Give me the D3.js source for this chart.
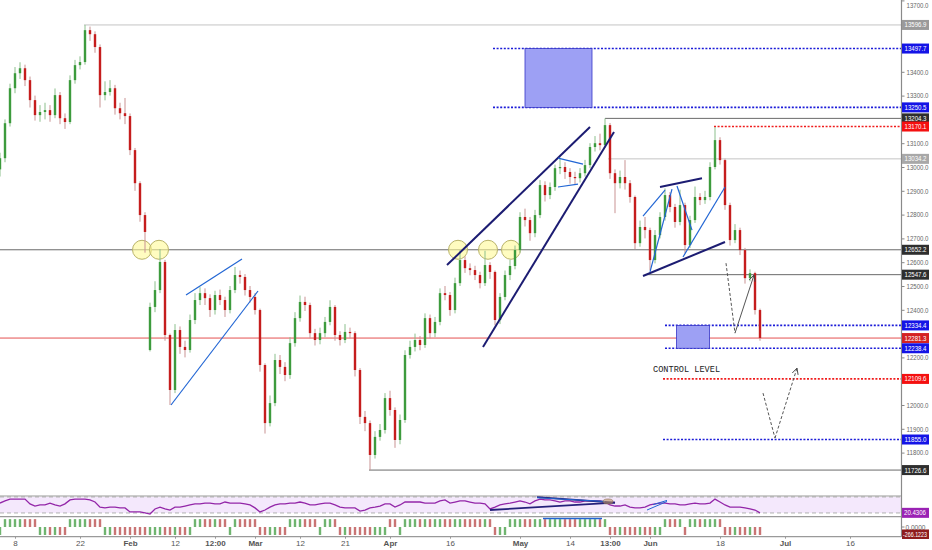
<!DOCTYPE html>
<html>
<head>
<meta charset="utf-8">
<script src="https://cdn.jsdelivr.net/npm/d3@7"></script>
<style>
  body { margin: 0; background: #fff; }
  svg { display: block; font-family: "Liberation Sans", Arial, sans-serif; }
</style>
</head>
<body>
<svg></svg>
<script>
// candles, one every bar
const opens = [
  12990,13037,13184,13331,13394,13415,13365,13281,13218,13231,
  13239,13218,13302,13205,13189,13365,13428,13441,13575,13558,
  13504,13302,13315,13331,13247,13226,13214,13071,12932,12798,
  12231,12412,12483,12601,12294,12063,12315,12244,12231,12357,
  12441,12470,12449,12399,12462,12441,12399,12483,12546,12538,
  12483,12454,12399,12168,11924,12008,12189,12160,12126,12260,
  12365,12433,12420,12302,12273,12302,12349,12412,12294,12273,
  12307,12302,12147,11950,11924,11790,11866,11895,12029,11979,
  11853,11937,12210,12244,12273,12252,12365,12302,12349,12470,
  12462,12399,12512,12609,12575,12567,12546,12512,12588,12559,
  12357,12454,12546,12584,12651,12790,12777,12722,12798,12924,
  12882,12916,12995,13000,12979,12958,12953,12974,13008,13084,
  13100,13092,13176,12974,12932,12958,12932,12874,12680,12748,
  12735,12609,12714,12790,12882,12832,12769,12840,12672,12777,
  12874,12861,12874,13000,13113,13029,12840,12693,12735,12651,
  12533,12554,12399
];
const highs = [
  13060,13200,13350,13420,13440,13430,13380,13300,13260,13270,
  13260,13330,13315,13225,13385,13450,13465,13597,13590,13570,
  13515,13360,13365,13345,13270,13290,13225,13080,12940,12810,
  12430,12520,12655,12610,12300,12340,12330,12270,12380,12470,
  12495,12490,12465,12480,12485,12455,12500,12580,12565,12550,
  12500,12470,12405,12175,12040,12215,12210,12180,12285,12390,
  12460,12455,12430,12320,12325,12370,12440,12420,12310,12340,
  12325,12310,12155,11975,11935,11890,11920,12050,12060,11990,
  11960,12230,12270,12300,12290,12385,12380,12370,12490,12500,
  12475,12535,12650,12625,12595,12585,12560,12648,12600,12565,
  12470,12565,12610,12670,12810,12825,12790,12820,12945,12940,
  12935,13010,13040,13020,12995,12980,12995,13030,13100,13130,
  13140,13204,13185,12990,12985,13029,12945,12880,12775,12790,
  12745,12735,12810,12910,12895,12845,12905,12850,12795,12918,
  12890,12900,13020,13168,13125,13035,12850,12760,12745,12660,
  12570,12560,12405
];
const lows = [
  12960,13020,13170,13310,13370,13340,13250,13195,13190,13200,
  13190,13205,13180,13160,13180,13350,13410,13430,13530,13480,
  13250,13280,13300,13220,13200,13180,13050,12900,12770,12640,
  12225,12390,12470,12270,12000,12050,12215,12200,12220,12340,
  12420,12420,12370,12380,12420,12370,12385,12470,12510,12460,
  12430,12380,12140,11880,11910,11995,12130,12100,12110,12245,
  12350,12395,12280,12250,12255,12285,12335,12270,12250,12260,
  12280,12120,11920,11890,11727,11775,11850,11880,11955,11820,
  11835,11925,12195,12225,12230,12240,12280,12285,12335,12440,
  12375,12385,12500,12555,12545,12525,12490,12500,12530,12335,
  12340,12440,12525,12570,12640,12750,12690,12705,12785,12855,
  12865,12900,12970,12950,12930,12925,12935,12960,12995,13065,
  13070,13080,12950,12806,12910,12905,12850,12655,12665,12700,
  12567,12595,12700,12775,12810,12745,12755,12638,12660,12765,
  12840,12845,12860,12990,13010,12820,12670,12680,12630,12510,
  12520,12380,12270
];
const closes = [
  13037,13184,13331,13394,13415,13365,13281,13218,13231,13239,
  13218,13302,13205,13189,13365,13428,13441,13575,13558,13504,
  13302,13315,13331,13247,13226,13214,13071,12932,12798,12727,
  12412,12483,12601,12294,12063,12315,12244,12231,12357,12441,
  12470,12449,12399,12462,12441,12399,12483,12546,12538,12483,
  12454,12399,12168,11924,12008,12189,12160,12126,12260,12365,
  12433,12420,12302,12273,12302,12349,12412,12294,12273,12307,
  12302,12147,11950,11924,11790,11866,11895,12029,11979,11853,
  11937,12210,12244,12273,12252,12365,12302,12349,12470,12462,
  12399,12512,12609,12575,12567,12546,12512,12588,12559,12357,
  12454,12546,12584,12651,12790,12777,12722,12798,12924,12882,
  12916,12995,13000,12979,12958,12953,12974,13008,13084,13100,
  13092,13176,12974,12932,12958,12932,12874,12680,12748,12735,
  12609,12714,12790,12882,12832,12769,12840,12672,12777,12874,
  12861,12874,13000,13113,13029,12840,12693,12735,12651,12533,
  12554,12399,12281.3
];

// oscillator in the middle pane
const oscVals = [
  57,65,72,72,72,72,54,46,50,50,
  57,50,46,54,69,72,72,72,69,61,
  42,39,42,42,39,39,24,24,24,20,
  16,35,42,35,31,42,42,46,50,54,
  54,57,57,54,54,61,57,57,57,54,
  50,39,24,31,42,50,54,54,57,57,
  61,57,50,50,54,57,57,50,42,39,
  39,39,27,31,39,42,46,54,54,42,
  50,61,61,61,61,57,57,57,65,69,
  57,61,65,65,61,57,57,54,35,42,
  50,54,57,61,65,61,54,65,72,69,
  69,65,61,65,65,61,61,65,65,65,
  65,61,50,46,46,50,42,39,39,42,
  50,54,57,57,54,54,50,50,54,57,
  54,54,57,72,61,50,42,42,42,39,
  35,31,20.4306
];

// histogram in the bottom pane
const histVals = [
  -266,262,262,262,262,262,262,262,-266,-266,
  -266,-266,-266,-266,262,262,262,262,262,262,
  262,-266,-266,-266,-266,-266,-266,-266,-266,-266,
  -266,-266,-266,-266,-266,-266,-266,-266,-266,262,
  262,262,262,262,262,262,-266,262,262,262,
  262,262,-266,-266,-266,-266,-266,-266,262,262,
  262,262,262,262,-266,262,262,262,-266,-266,
  -266,-266,-266,-266,-266,-266,-266,-266,262,262,
  -266,262,262,262,262,262,262,262,262,262,
  262,262,262,262,262,262,262,262,262,-266,
  -266,-266,262,262,262,262,262,262,262,262,
  262,262,262,262,262,262,262,262,262,262,
  262,262,-266,-266,-266,-266,-266,-266,-266,-266,
  -266,-266,-266,262,262,262,262,-266,262,262,
  262,262,262,262,262,-266,-266,-266,-266,-266,
  -266,-266,-266.1223
];

// time axis: bar index of each label
const xTickIdx  = [3, 16, 26, 35, 43, 51, 60, 69, 78, 90, 104, 114, 122, 130, 144, 157, 170];
const xTickText = ['8', '22', 'Feb', '12', '12:00', 'Mar', '12', '21', 'Apr', '16', 'May', '14', '13:00', 'Jun', '18', 'Jul', '16'];

// horizontal levels drawn on the chart
const levelPrices = [13596.9, 13497.7, 13250.5, 13204.3, 13170.1, 13034.2, 12652.2, 12547.6, 12334.4, 12281.3, 12238.4, 12109.6, 11855.0, 11726.6];
const levelStart  = [16.8, 98.6, 98.6, 121, 142.8, 121.6, 0, 129, 133, 0, 133, 132.6, 132.6, 73.8];
const levelKind   = ['grey', 'blue', 'blue', 'dark', 'red', 'light', 'dark', 'dark', 'blue', 'last', 'blue', 'red', 'blue', 'dark'];

// drawings, in bar index / price
const zones      = [[105, 118.4, 13497.7, 13250.5], [135.3, 141.9, 12334.4, 12238.4]];
const navyLines  = [[89.4, 12588, 118, 13168], [96.6, 12244, 122.8, 13147], [132, 12916, 140.4, 12953], [128.6, 12542, 145, 12685]];
const blueLines  = [[34.2, 12000, 51.6, 12479], [37.2, 12462, 48.4, 12613], [111.6, 13037, 116.6, 13012], [111.6, 12916, 115.6, 12928],
                    [128.6, 12794, 133, 12903], [130, 12559, 134.4, 12907], [135.4, 12920, 138.4, 12735], [136.6, 12622, 145, 12916]];
const circleIdx  = [28.4, 31.8, 91.6, 97.6, 102.2];
const circlePrice = 12652.2;
const arrowPaths = [[[145.2, 12596], [147, 12302], [150.8, 12546]], [[152.6, 12050], [155, 11861], [159.4, 12155]]];
const noteIdx = 130.6, notePrice = 12140, noteText = 'CONTROL LEVEL';

// drawings in the lower panes
const oscNavy = [[98, 31, 123, 59], [107.4, 79, 123, 59]];
const oscBlue = [[107.4, 77, 121, 63], [129.4, 31, 133.4, 63], [130.6, 51, 133.4, 67]];
const histLine = [108.6, 120.4, 285];

const width = 932, height = 550;
const axisX = 901.5;
const mainBottom = 496, oscBottom = 516.7, histBottom = 536.7;

const colors = {
  grey:  {line: '#c4c4c4', tag: '#9a9a9a', dash: null},
  light: {line: '#c4c4c4', tag: '#a8a8a8', dash: null},
  dark:  {line: '#6a6a6a', tag: '#2e2e2e', dash: null},
  blue:  {line: '#1c1cd8', tag: '#1414e6', dash: '2,1.6'},
  red:   {line: '#f01c1c', tag: '#f41010', dash: '2,1.6'},
  last:  {line: '#e45050', tag: '#d42222', dash: null}
};
const green = '#3d9b3d', red = '#c51d1d';

const svg = d3.select('svg').attr('width', width).attr('height', height);

let xScale = d3.scaleLinear().domain([0, 180]).range([0, 900]),
    yScale = d3.scaleLinear().domain([11700, 13700]).range([476.4, 0.4]),
    oScale = d3.scaleLinear().domain([0, 100]).range([518.3, 491.6]),
    hScale = d3.scaleLinear().domain([-300, 300]).range([536, 518]);

let defs = svg.append('defs');
defs.append('clipPath').attr('id', 'mainClip')
  .append('rect').attr('x', 0).attr('y', 0).attr('width', axisX).attr('height', mainBottom);
defs.append('marker').attr('id', 'arrow')
    .attr('viewBox', '0 0 8 8').attr('refX', 7).attr('refY', 4)
    .attr('markerWidth', 7).attr('markerHeight', 7).attr('orient', 'auto')
  .append('path').attr('d', 'M0,0.5 L7,4 L0,7.5').attr('fill', 'none').attr('stroke', '#444').attr('stroke-width', 1);

// oscillator pane background
svg.append('rect')
  .attr('x', 0).attr('width', axisX)
  .attr('y', oScale(80)).attr('height', oScale(20) - oScale(80))
  .attr('fill', '#f4e8fc');
[80, 20].forEach(v => {
  svg.append('line')
    .attr('x1', 0).attr('x2', axisX).attr('y1', oScale(v)).attr('y2', oScale(v))
    .attr('stroke', '#b0b0b0').attr('stroke-dasharray', '4,3');
});

// pane borders
[mainBottom, oscBottom, histBottom].forEach(y => {
  svg.append('line').attr('x1', 0).attr('x2', axisX).attr('y1', y).attr('y2', y)
    .attr('stroke', '#9a9a9a').attr('stroke-width', 1.2);
});

let main = svg.append('g').attr('clip-path', 'url(#mainClip)');

// levels
let levels = d3.range(levelPrices.length);
main.selectAll('.lvl').data(levels).enter().append('line')
    .attr('x1', i => xScale(levelStart[i])).attr('x2', axisX)
    .attr('y1', i => yScale(levelPrices[i])).attr('y2', i => yScale(levelPrices[i]))
    .attr('stroke', i => colors[levelKind[i]].line)
    .attr('stroke-width', i => colors[levelKind[i]].dash ? 1.6 : 1)
    .attr('stroke-dasharray', i => colors[levelKind[i]].dash);

// zones
main.selectAll('.zone').data(zones).enter().append('rect')
    .attr('x', d => xScale(d[0])).attr('width', d => xScale(d[1]) - xScale(d[0]))
    .attr('y', d => yScale(d[2])).attr('height', d => yScale(d[3]) - yScale(d[2]))
    .attr('fill', '#9da0f4').attr('stroke', '#3535c8').attr('stroke-width', 0.8);

// circles
main.selectAll('.circ').data(circleIdx).enter().append('circle')
    .attr('cx', d => xScale(d)).attr('cy', yScale(circlePrice)).attr('r', 9.5)
    .attr('fill', 'rgba(255,250,150,0.6)').attr('stroke', '#b9b36a').attr('stroke-width', 1);

// candles
let bars = d3.range(closes.length);
const isUp = i => closes[i] >= opens[i];
main.append('g').selectAll('line').data(bars).enter().append('line')
    .attr('x1', i => xScale(i)).attr('x2', i => xScale(i))
    .attr('y1', i => yScale(highs[i])).attr('y2', i => yScale(lows[i]))
    .attr('stroke', i => isUp(i) ? '#8cbf8c' : '#c99393').attr('stroke-width', 1);
main.append('g').selectAll('rect').data(bars).enter().append('rect')
    .attr('x', i => xScale(i) - 1.2).attr('width', 2.4)
    .attr('y', i => yScale(Math.max(opens[i], closes[i])))
    .attr('height', i => Math.max(1, Math.abs(yScale(opens[i]) - yScale(closes[i]))))
    .attr('fill', i => isUp(i) ? green : red);

// trend lines
main.selectAll('.navy').data(navyLines).enter().append('line')
    .attr('x1', d => xScale(d[0])).attr('y1', d => yScale(d[1]))
    .attr('x2', d => xScale(d[2])).attr('y2', d => yScale(d[3]))
    .attr('stroke', '#1c1c72').attr('stroke-width', 2);
main.selectAll('.blue').data(blueLines).enter().append('line')
    .attr('x1', d => xScale(d[0])).attr('y1', d => yScale(d[1]))
    .attr('x2', d => xScale(d[2])).attr('y2', d => yScale(d[3]))
    .attr('stroke', '#2266d4').attr('stroke-width', 1.2);

// projected path arrows
arrowPaths.forEach((pts, k) => {
  main.append('line')
    .attr('x1', xScale(pts[0][0])).attr('y1', yScale(pts[0][1]))
    .attr('x2', xScale(pts[1][0])).attr('y2', yScale(pts[1][1]))
    .attr('stroke', '#555').attr('stroke-dasharray', '3,2');
  main.append('line')
    .attr('x1', xScale(pts[1][0])).attr('y1', yScale(pts[1][1]))
    .attr('x2', xScale(pts[2][0])).attr('y2', yScale(pts[2][1]))
    .attr('stroke', '#555').attr('stroke-dasharray', k === 0 ? null : '3,2')
    .attr('marker-end', 'url(#arrow)');
});

main.append('text')
    .attr('x', xScale(noteIdx)).attr('y', yScale(notePrice))
    .attr('font-family', '"Liberation Mono", "DejaVu Sans Mono", monospace')
    .attr('font-size', '8.6px').attr('fill', '#222')
    .text(noteText);

// oscillator line
let oscLine = d3.line().x((d, i) => xScale(i)).y(d => oScale(d));
svg.append('path').datum(oscVals)
    .attr('d', oscLine).attr('fill', 'none')
    .attr('stroke', '#9326a8').attr('stroke-width', 1.3);
svg.selectAll('.onavy').data(oscNavy).enter().append('line')
    .attr('x1', d => xScale(d[0])).attr('y1', d => oScale(d[1]))
    .attr('x2', d => xScale(d[2])).attr('y2', d => oScale(d[3]))
    .attr('stroke', '#25207a').attr('stroke-width', 1.8);
svg.selectAll('.oblue').data(oscBlue).enter().append('line')
    .attr('x1', d => xScale(d[0])).attr('y1', d => oScale(d[1]))
    .attr('x2', d => xScale(d[2])).attr('y2', d => oScale(d[3]))
    .attr('stroke', '#2266d4').attr('stroke-width', 1);
svg.append('ellipse')
    .attr('cx', xScale(121.6)).attr('cy', oScale(63)).attr('rx', 5).attr('ry', 2.5)
    .attr('fill', 'rgba(190,150,100,0.6)').attr('stroke', '#8a6a50').attr('stroke-width', 0.6);

// histogram
svg.append('g').selectAll('rect').data(bars).enter().append('rect')
    .attr('x', i => xScale(i) - 1.2).attr('width', 2.4)
    .attr('y', i => Math.min(hScale(0), hScale(histVals[i])))
    .attr('height', i => Math.abs(hScale(histVals[i]) - hScale(0)))
    .attr('fill', i => isUp(i) ? '#6fb46f' : '#c97474');
svg.append('line')
    .attr('x1', xScale(histLine[0])).attr('x2', xScale(histLine[1]))
    .attr('y1', hScale(histLine[2])).attr('y2', hScale(histLine[2]))
    .attr('stroke', '#2266d4').attr('stroke-width', 1.5);

// right price axis
let tagY = levelPrices.map(p => yScale(p));
let priceTicks = d3.range(11700, 13701, 100).filter(t => tagY.every(y => Math.abs(y - yScale(t)) > 7));
let yAxis = d3.axisRight(yScale)
    .tickValues(priceTicks)
    .tickFormat(d3.format('.1f'))
    .tickSize(3).tickPadding(2);
let yG = svg.append('g')
    .attr('transform', `translate(${axisX}, 0)`)
    .call(yAxis);
yG.select('.domain').remove();
yG.selectAll('line').attr('stroke', '#888');
yG.selectAll('text').attr('font-size', '7px').attr('fill', '#666')
    .attr('textLength', 22).attr('lengthAdjust', 'spacingAndGlyphs')
    .attr('dy', d => yScale(d) < 4 ? '0.95em' : '0.32em');

svg.append('line').attr('x1', axisX).attr('x2', axisX).attr('y1', 0).attr('y2', histBottom)
    .attr('stroke', '#8a8a8a').attr('stroke-width', 1.2);

// price tags
let tags = svg.append('g').selectAll('g').data(levels).enter().append('g')
    .attr('transform', i => `translate(${axisX + 0.5}, ${yScale(levelPrices[i])})`);
tags.append('rect').attr('x', 0).attr('y', -5).attr('width', 27).attr('height', 10)
    .attr('fill', i => colors[levelKind[i]].tag);
tags.append('text').attr('x', 2.5).attr('y', 2.5)
    .attr('font-size', '7px').attr('fill', '#fff')
    .attr('textLength', 22).attr('lengthAdjust', 'spacingAndGlyphs')
    .text(i => levelPrices[i].toFixed(1));

// lower pane tags
svg.append('text').attr('x', axisX + 4).attr('y', hScale(0) + 2.5)
    .attr('font-size', '7px').attr('fill', '#666')
    .attr('textLength', 20).attr('lengthAdjust', 'spacingAndGlyphs')
    .text('0.0000');
svg.append('line').attr('x1', axisX).attr('x2', axisX + 3).attr('y1', hScale(0)).attr('y2', hScale(0)).attr('stroke', '#888');
let lastOsc = oscVals[oscVals.length - 1];
svg.append('rect').attr('x', axisX + 0.5).attr('y', oScale(lastOsc) - 5).attr('width', 27).attr('height', 10).attr('fill', '#9a22b4');
svg.append('text').attr('x', axisX + 2.5).attr('y', oScale(lastOsc) + 2.5)
    .attr('font-size', '7px').attr('fill', '#fff')
    .attr('textLength', 22).attr('lengthAdjust', 'spacingAndGlyphs')
    .text(lastOsc.toFixed(4));
let lastHist = histVals[histVals.length - 1];
svg.append('rect').attr('x', axisX + 0.5).attr('y', hScale(lastHist) - 5.5).attr('width', 27).attr('height', 9.5).attr('fill', '#8e1c1c');
svg.append('text').attr('x', axisX + 1.5).attr('y', hScale(lastHist) + 1.8)
    .attr('font-size', '6.6px').attr('fill', '#fff')
    .attr('textLength', 24).attr('lengthAdjust', 'spacingAndGlyphs')
    .text(lastHist.toFixed(4));

// time axis
let xAxis = d3.axisBottom(xScale)
    .tickValues(xTickIdx)
    .tickFormat((d, i) => xTickText[i])
    .tickSize(2).tickPadding(2);
let xG = svg.append('g')
    .attr('transform', `translate(0, ${histBottom})`)
    .call(xAxis);
xG.select('.domain').remove();
xG.selectAll('line').attr('stroke', '#999');
xG.selectAll('text')
    .attr('font-size', '8px').attr('fill', '#555')
    .attr('font-weight', (d, i) => /[A-Za-z:]/.test(xTickText[i]) ? 'bold' : 'normal');
</script>
</body>
</html>
